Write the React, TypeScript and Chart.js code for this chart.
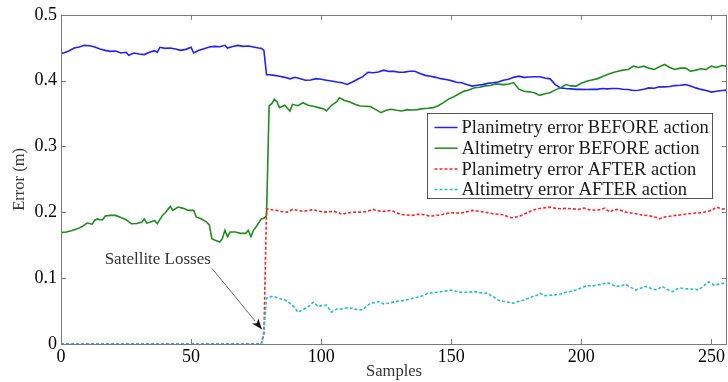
import { useEffect, useRef } from "react";
import { Chart, registerables } from "chart.js";

Chart.register(...registerables);

const FONT = '"Liberation Serif", "Times New Roman", Times, serif';

// ---- data (sample index, error in metres) ----
const blueX = [0,1,3,5,7,9,11,13,15,17,19,21,23,25,26,28,30,32,34,36,37,38,40,42,44,46,48,50,51,53,55,57,59,61,63,64,66,68,70,72,74,76,77,78,79,80,82,84,86,88,90,92,94,96,98,100,102,104,106,108,110,112,114,116,118,120,122,124,126,128,130,132,134,136,138,140,142,144,146,148,150,152,154,156,158,160,162,164,166,168,170,172,174,176,178,180,182,184,186,188,190,192,194,196,198,200,202,204,206,208,210,212,214,216,218,220,222,224,226,228,230,232,234,236,238,240,242,244,246,248,250,252,254,256];
const blueY = [0.442,0.442,0.445,0.4495,0.451,0.4536,0.453,0.451,0.448,0.446,0.4445,0.445,0.442,0.443,0.4385,0.442,0.4405,0.4396,0.443,0.4455,0.443,0.4506,0.449,0.4495,0.448,0.446,0.4475,0.4506,0.442,0.446,0.4485,0.451,0.452,0.4515,0.4536,0.4495,0.452,0.4536,0.452,0.4525,0.451,0.4495,0.449,0.446,0.409,0.409,0.408,0.4068,0.405,0.4027,0.405,0.403,0.4005,0.401,0.403,0.402,0.4007,0.3995,0.398,0.3967,0.3943,0.398,0.402,0.406,0.4128,0.412,0.413,0.4159,0.414,0.414,0.4128,0.413,0.4143,0.4143,0.411,0.408,0.4068,0.405,0.403,0.4018,0.4,0.3975,0.3967,0.394,0.3917,0.393,0.394,0.3958,0.3967,0.398,0.4007,0.402,0.405,0.4068,0.405,0.4055,0.406,0.406,0.404,0.4027,0.394,0.389,0.388,0.3875,0.3867,0.387,0.3865,0.387,0.3867,0.388,0.3875,0.388,0.388,0.387,0.3865,0.385,0.3855,0.387,0.389,0.3885,0.3906,0.3906,0.391,0.3925,0.393,0.394,0.392,0.389,0.3867,0.385,0.3826,0.384,0.385,0.3856];

const greenX = [0,2,4,6,8,10,12,13,14,15,16,17,19,21,23,25,27,29,31,32,33,35,36,37,39,40,42,43,45,47,49,51,52,54,56,57,58,59,61,62,63,64,65,67,69,71,72,73,74,75,77,78,79,80,81,82,83,84,86,88,89,91,93,95,97,99,101,102,104,106,107,109,111,113,115,117,119,121,123,125,127,129,131,133,135,137,139,141,143,145,147,149,151,153,155,157,159,161,163,165,167,170,172,174,176,178,180,182,184,186,188,190,192,194,196,198,200,202,204,206,208,210,212,214,216,218,220,222,224,226,228,230,232,234,236,238,240,242,244,246,248,250,252,254,256];
const greenY = [0.1692,0.17,0.172,0.1745,0.178,0.1837,0.182,0.188,0.19,0.1887,0.1887,0.1943,0.1953,0.1953,0.192,0.1888,0.1827,0.183,0.185,0.19,0.1837,0.186,0.1877,0.1827,0.1953,0.199,0.2089,0.203,0.208,0.206,0.2029,0.203,0.193,0.19,0.185,0.181,0.16,0.158,0.155,0.16,0.1727,0.163,0.17,0.17,0.168,0.168,0.1727,0.163,0.1727,0.178,0.19,0.191,0.195,0.3615,0.365,0.3716,0.368,0.359,0.3625,0.354,0.364,0.362,0.3665,0.3625,0.361,0.359,0.357,0.354,0.3625,0.368,0.374,0.37,0.3675,0.364,0.3615,0.361,0.3605,0.356,0.3514,0.355,0.3565,0.355,0.354,0.356,0.3555,0.356,0.3575,0.358,0.359,0.362,0.3665,0.372,0.3756,0.38,0.3841,0.386,0.3891,0.39,0.392,0.3927,0.395,0.394,0.395,0.3967,0.387,0.384,0.383,0.3816,0.3776,0.38,0.3816,0.386,0.389,0.394,0.392,0.3917,0.396,0.3992,0.401,0.4027,0.406,0.4094,0.412,0.4143,0.416,0.4169,0.422,0.42,0.422,0.419,0.4169,0.421,0.4245,0.42,0.4169,0.419,0.419,0.4143,0.416,0.418,0.417,0.422,0.42,0.423,0.422];

const redX = [0,77,78,79,81,83,85,87,89,91,93,95,97,99,101,103,105,107,108,110,113,116,118,120,122,124,126,127,129,131,133,135,137,139,141,142,144,146,148,150,152,154,156,158,160,163,166,168,170,172,173,175,177,179,181,183,185,188,190,192,194,196,198,199,201,203,206,208,209,211,212,214,216,217,219,221,223,225,227,229,230,232,234,236,238,241,244,246,248,250,252,254,256];
const redY = [0,0,0.015,0.2054,0.204,0.2029,0.201,0.2003,0.2044,0.203,0.2014,0.203,0.2039,0.202,0.2003,0.201,0.2014,0.199,0.1968,0.199,0.2003,0.2003,0.202,0.2044,0.202,0.2014,0.2025,0.2029,0.199,0.1968,0.196,0.1953,0.197,0.1968,0.195,0.1943,0.195,0.1963,0.198,0.1994,0.199,0.199,0.201,0.2029,0.202,0.2003,0.1978,0.197,0.1963,0.193,0.1918,0.193,0.1953,0.199,0.2029,0.205,0.2064,0.2079,0.206,0.2054,0.206,0.2054,0.205,0.2044,0.2064,0.204,0.2029,0.205,0.2064,0.2003,0.203,0.2044,0.202,0.2003,0.199,0.1978,0.196,0.1953,0.194,0.192,0.19,0.1928,0.194,0.1953,0.196,0.1978,0.199,0.1994,0.201,0.2029,0.2079,0.205,0.2054];

const cyanX = [0,77,78,79,80,82,84,86,88,90,91,93,95,97,99,100,102,104,106,108,110,112,114,116,117,119,121,122,124,126,128,130,132,134,136,138,140,141,143,145,147,150,152,154,156,159,161,164,166,168,170,172,174,176,178,180,181,183,184,186,188,190,192,194,196,198,200,202,204,206,208,210,212,213,215,217,219,221,223,225,227,229,231,233,235,237,238,240,242,244,245,247,249,251,253,256];
const cyanY = [0,0,0.02,0.0695,0.072,0.0719,0.069,0.0669,0.0619,0.055,0.0483,0.052,0.0568,0.0634,0.0568,0.058,0.059,0.0483,0.053,0.0533,0.055,0.0543,0.052,0.0518,0.056,0.0619,0.063,0.0644,0.061,0.0619,0.064,0.0654,0.066,0.0684,0.07,0.0719,0.075,0.077,0.078,0.0785,0.08,0.082,0.08,0.0785,0.0785,0.0795,0.078,0.077,0.0719,0.0669,0.065,0.0634,0.0619,0.065,0.0669,0.07,0.0719,0.074,0.077,0.0735,0.074,0.0745,0.076,0.0785,0.08,0.082,0.085,0.0885,0.088,0.0895,0.091,0.093,0.09,0.0875,0.088,0.0905,0.086,0.082,0.085,0.0875,0.084,0.082,0.0875,0.083,0.0795,0.084,0.085,0.084,0.0835,0.083,0.082,0.088,0.0945,0.0895,0.091,0.0935];

const seriesLabels = [
  "Planimetry error BEFORE action",
  "Altimetry error BEFORE action",
  "Planimetry error AFTER action",
  "Altimetry error AFTER action",
];
const seriesColors = ["#1f1fff", "#1e8c1e", "#ff2020", "#20c0c8"];
const seriesDash = [[], [], [3, 2], [3, 2]];

const xMin = 0;
const xMax = 256;
const xStep = 50;
const yMin = 0;
const yMax = 0.5;
const yStep = 0.1;

const annotationText = "Satellite Losses";
const annotationTextAt = { x: 37.2, y: 0.129 };
const annotationFrom = { x: 58, y: 0.115 };
const annotationTo = { x: 77.3, y: 0.022 };

const zip = (xs: number[], ys: number[]) => xs.map((x, i) => ({ x, y: ys[i] }));

const framePlugin = {
  id: "matlabFrame",
  afterDatasetsDraw(chart: any) {
    const { ctx, chartArea: a, scales } = chart;
    const tl = 5;
    ctx.save();
    ctx.strokeStyle = "#7a7a7a";
    ctx.lineWidth = 1;
    ctx.beginPath();
    ctx.rect(Math.round(a.left) + 0.5, Math.round(a.top) + 0.5, Math.round(a.right - a.left) - 1, Math.round(a.bottom - a.top));
    ctx.stroke();
    ctx.beginPath();
    for (const t of scales.x.ticks) {
      const px = Math.round(scales.x.getPixelForValue(t.value)) + 0.5;
      ctx.moveTo(px, a.bottom);
      ctx.lineTo(px, a.bottom - tl);
      ctx.moveTo(px, a.top);
      ctx.lineTo(px, a.top + tl);
    }
    for (const t of scales.y.ticks) {
      const py = Math.round(scales.y.getPixelForValue(t.value)) + 0.5;
      ctx.moveTo(a.left, py);
      ctx.lineTo(a.left + tl, py);
      ctx.moveTo(a.right, py);
      ctx.lineTo(a.right - tl, py);
    }
    ctx.stroke();

    // annotation
    const sx = scales.x, sy = scales.y;
    const tx = sx.getPixelForValue(annotationTextAt.x);
    const ty = sy.getPixelForValue(annotationTextAt.y);
    ctx.fillStyle = "#333";
    ctx.font = `17px ${FONT}`;
    ctx.textAlign = "center";
    ctx.textBaseline = "middle";
    ctx.fillText(annotationText, tx, ty);
    const x0 = sx.getPixelForValue(annotationFrom.x);
    const y0 = sy.getPixelForValue(annotationFrom.y);
    const x1 = sx.getPixelForValue(annotationTo.x);
    const y1 = sy.getPixelForValue(annotationTo.y);
    const ang = Math.atan2(y1 - y0, x1 - x0);
    const hl = 11, hw = 4;
    ctx.strokeStyle = "#666";
    ctx.beginPath();
    ctx.moveTo(x0, y0);
    ctx.lineTo(x1 - Math.cos(ang) * hl, y1 - Math.sin(ang) * hl);
    ctx.stroke();
    ctx.fillStyle = "#111";
    ctx.beginPath();
    ctx.moveTo(x1, y1);
    ctx.lineTo(x1 - Math.cos(ang) * hl - Math.sin(ang) * hw, y1 - Math.sin(ang) * hl + Math.cos(ang) * hw);
    ctx.lineTo(x1 - Math.cos(ang) * hl * 0.75, y1 - Math.sin(ang) * hl * 0.75);
    ctx.lineTo(x1 - Math.cos(ang) * hl + Math.sin(ang) * hw, y1 - Math.sin(ang) * hl - Math.cos(ang) * hw);
    ctx.closePath();
    ctx.fill();

    // legend
    const lw = 285, rowH = 20.7;
    const lx = Math.round(a.right - 15 - lw) + 0.5;
    const ly = Math.round(a.top + 98) + 0.5;
    const lh = 85;
    ctx.fillStyle = "#fff";
    ctx.fillRect(lx, ly, lw, lh);
    ctx.strokeStyle = "#555";
    ctx.lineWidth = 1;
    ctx.strokeRect(lx, ly, lw, lh);
    ctx.font = `18.5px ${FONT}`;
    ctx.textAlign = "left";
    ctx.textBaseline = "middle";
    seriesLabels.forEach((lab, i) => {
      const cy = ly + 14 + i * rowH;
      ctx.strokeStyle = seriesColors[i];
      ctx.lineWidth = 1.5;
      ctx.setLineDash(seriesDash[i]);
      ctx.beginPath();
      ctx.moveTo(lx + 7, cy);
      ctx.lineTo(lx + 30, cy);
      ctx.stroke();
      ctx.setLineDash([]);
      ctx.fillStyle = "#1a1a1a";
      ctx.fillText(lab, lx + 34, cy + 1);
    });
    ctx.restore();
  },
};

export default function App() {
  const ref = useRef<HTMLCanvasElement>(null);
  useEffect(() => {
    const datasets = [
      zip(blueX, blueY),
      zip(greenX, greenY),
      zip(redX, redY),
      zip(cyanX, cyanY),
    ].map((data, i) => ({
      label: seriesLabels[i],
      data,
      borderColor: seriesColors[i],
      backgroundColor: seriesColors[i],
      borderWidth: 1.6,
      borderDash: seriesDash[i],
      pointRadius: 0,
      tension: 0,
      fill: false,
      order: 4 - i,
    }));
    const chart = new Chart(ref.current!, {
      type: "line",
      data: { datasets },
      options: {
        animation: false,
        responsive: false,
        events: [],
        layout: { padding: { top: 13, right: 1, left: 0, bottom: 0 } },
        plugins: { legend: { display: false }, tooltip: { enabled: false } },
        scales: {
          x: {
            type: "linear",
            min: xMin,
            max: xMax,
            grid: { display: false, drawTicks: false },
            border: { display: false },
            ticks: {
              stepSize: xStep,
              includeBounds: false,
              maxRotation: 0,
              padding: 2,
              color: "#000",
              font: { family: FONT, size: 18 },
            },
            title: {
              display: true,
              text: "Samples",
              color: "#333",
              font: { family: FONT, size: 16.5 },
              padding: { top: 0, bottom: 0 },
            },
            afterFit(s: any) {
              s.height = 38;
            },
          },
          y: {
            type: "linear",
            min: yMin,
            max: yMax,
            grid: { display: false, drawTicks: false },
            border: { display: false },
            ticks: {
              stepSize: yStep,
              includeBounds: false,
              padding: 4,
              color: "#000",
              font: { family: FONT, size: 18 },
            },
            title: {
              display: true,
              text: "Error (m)",
              color: "#333",
              font: { family: FONT, size: 16.5 },
              padding: { top: 10, bottom: 0 },
            },
            afterFit(s: any) {
              s.width = 61;
            },
          },
        },
      },
      plugins: [framePlugin],
    } as any);
    return () => chart.destroy();
  }, []);
  return (
    <div style={{ position: "absolute", left: 0, top: 0, width: 728, height: 382, background: "#fff" }}>
      <canvas ref={ref} width={728} height={382} style={{ display: "block" }} />
    </div>
  );
}
